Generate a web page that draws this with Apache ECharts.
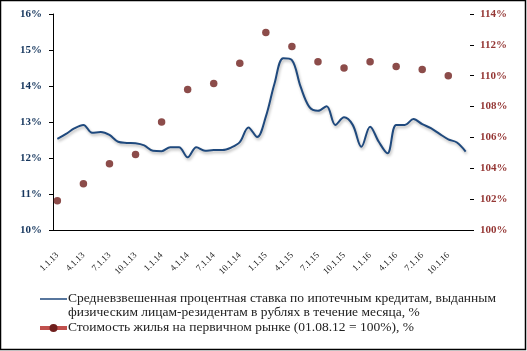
<!DOCTYPE html>
<html>
<head>
<meta charset="utf-8">
<script src="https://cdn.jsdelivr.net/npm/echarts@6/dist/echarts.min.js"></script>
<style>
  html, body { margin: 0; padding: 0; background: #fff; }
  #echart { width: 527px; height: 351px; }
</style>
</head>
<body>
<div id="echart"></div>
<script>
// monthly categories, 1.1.13 .. 12.1.16
const months = [
  '1.1.13', '2.1.13', '3.1.13', '4.1.13', '5.1.13', '6.1.13', '7.1.13', '8.1.13', '9.1.13', '10.1.13', '11.1.13', '12.1.13',
  '1.1.14', '2.1.14', '3.1.14', '4.1.14', '5.1.14', '6.1.14', '7.1.14', '8.1.14', '9.1.14', '10.1.14', '11.1.14', '12.1.14',
  '1.1.15', '2.1.15', '3.1.15', '4.1.15', '5.1.15', '6.1.15', '7.1.15', '8.1.15', '9.1.15', '10.1.15', '11.1.15', '12.1.15',
  '1.1.16', '2.1.16', '3.1.16', '4.1.16', '5.1.16', '6.1.16', '7.1.16', '8.1.16', '9.1.16', '10.1.16', '11.1.16', '12.1.16'
]

// weighted average mortgage rate, %
const rateValues = [
  12.53, 12.67, 12.83, 12.92, 12.70, 12.72, 12.64, 12.45, 12.42, 12.41, 12.35, 12.20,
  12.19, 12.30, 12.30, 12.02, 12.30, 12.20, 12.22, 12.22, 12.29, 12.44, 12.85, 12.58,
  13.15, 14.07, 14.77, 14.72, 13.98, 13.42, 13.31, 13.44, 12.92, 13.13, 12.92, 12.31,
  12.87, 12.45, 12.13, 12.92, 12.92, 13.08, 12.94, 12.83, 12.67, 12.52, 12.43, 12.18
]

// primary housing price index (01.08.12 = 100%), quarterly
const priceDates = [
  '1.1.13', '4.1.13', '7.1.13', '10.1.13', '1.1.14', '4.1.14', '7.1.14', '10.1.14',
  '1.1.15', '4.1.15', '7.1.15', '10.1.15', '1.1.16', '4.1.16', '7.1.16', '10.1.16'
]
const priceValues = [
  101.9, 103.0, 104.3, 104.9, 107.0, 109.1, 109.5, 110.8,
  112.8, 111.9, 110.9, 110.5, 110.9, 110.6, 110.4, 110.0
]

const rateName = 'Средневзвешенная процентная ставка по ипотечным кредитам, выданным'
const rateName2 = 'физическим лицам-резидентам в рублях в течение месяца, %'
const priceName = 'Стоимость жилья на первичном рынке (01.08.12 = 100%), %'

const serif = '"Liberation Serif", "DejaVu Serif", serif'

const chart = echarts.init(document.getElementById('echart'))

chart.setOption({
  animation: false,
  grid: {
    left: 53,
    right: 57,
    top: 14,
    bottom: 121,
  },
  xAxis: {
    type: 'category',
    data: months,
    boundaryGap: true,
    axisLine: { lineStyle: { color: '#000', width: 1 } },
    axisTick: { interval: 2, length: 4, lineStyle: { color: '#000' } },
    axisLabel: {
      interval: 2,
      rotate: 45,
      margin: 24,
      fontFamily: serif,
      fontSize: 9,
      color: '#222',
    },
  },
  yAxis: [
    {
      type: 'value',
      min: 10,
      max: 16,
      interval: 1,
      splitLine: { show: false },
      axisLine: { show: true, lineStyle: { color: '#000' } },
      axisTick: { show: true, length: 4, lineStyle: { color: '#000' } },
      axisLabel: {
        formatter: '{value}%',
        margin: 11,
        fontFamily: serif,
        fontSize: 11,
        fontWeight: 'bold',
        color: '#17375e',
      },
    },
    {
      type: 'value',
      min: 100,
      max: 114,
      interval: 2,
      splitLine: { show: false },
      axisLine: { show: false },
      axisTick: { show: true, length: 4, lineStyle: { color: '#000' } },
      axisLabel: {
        formatter: '{value}%',
        margin: 10,
        fontFamily: serif,
        fontSize: 11,
        fontWeight: 'bold',
        color: '#953735',
      },
    },
  ],
  series: [
    {
      name: rateName,
      type: 'line',
      yAxisIndex: 0,
      data: rateValues,
      smooth: 0.35,
      showSymbol: false,
      lineStyle: {
        color: '#1f497d',
        width: 2,
        shadowColor: 'rgba(0,0,0,0.3)',
        shadowBlur: 3,
        shadowOffsetX: 1,
        shadowOffsetY: 2,
      },
    },
    {
      name: priceName,
      type: 'scatter',
      yAxisIndex: 1,
      data: priceDates.map((d, i) => [d, priceValues[i]]),
      symbol: 'circle',
      symbolSize: 7.5,
      itemStyle: { color: '#6f1f1d' },
    },
  ],
  graphic: [
    {
      type: 'rect',
      shape: { x: 0.5, y: 0.5, width: 525, height: 349 },
      style: { fill: 'none', stroke: '#000', lineWidth: 1.5 },
    },
    // legend
    {
      type: 'line',
      shape: { x1: 40, y1: 299, x2: 67, y2: 299 },
      style: { stroke: '#1f497d', lineWidth: 1.5 },
    },
    {
      type: 'text',
      left: 68,
      top: 291,
      style: { text: rateName + '\n' + rateName2, font: '13.5px ' + serif, fill: '#222', lineHeight: 14 },
    },
    {
      type: 'line',
      shape: { x1: 40, y1: 328, x2: 67, y2: 328 },
      style: { stroke: '#c0504d', lineWidth: 4 },
    },
    {
      type: 'circle',
      shape: { cx: 53.5, cy: 328, r: 4 },
      style: { fill: '#6f1f1d' },
    },
    {
      type: 'text',
      left: 68,
      top: 320,
      style: { text: priceName, font: '13.5px ' + serif, fill: '#222' },
    },
  ],
})
</script>
</body>
</html>
